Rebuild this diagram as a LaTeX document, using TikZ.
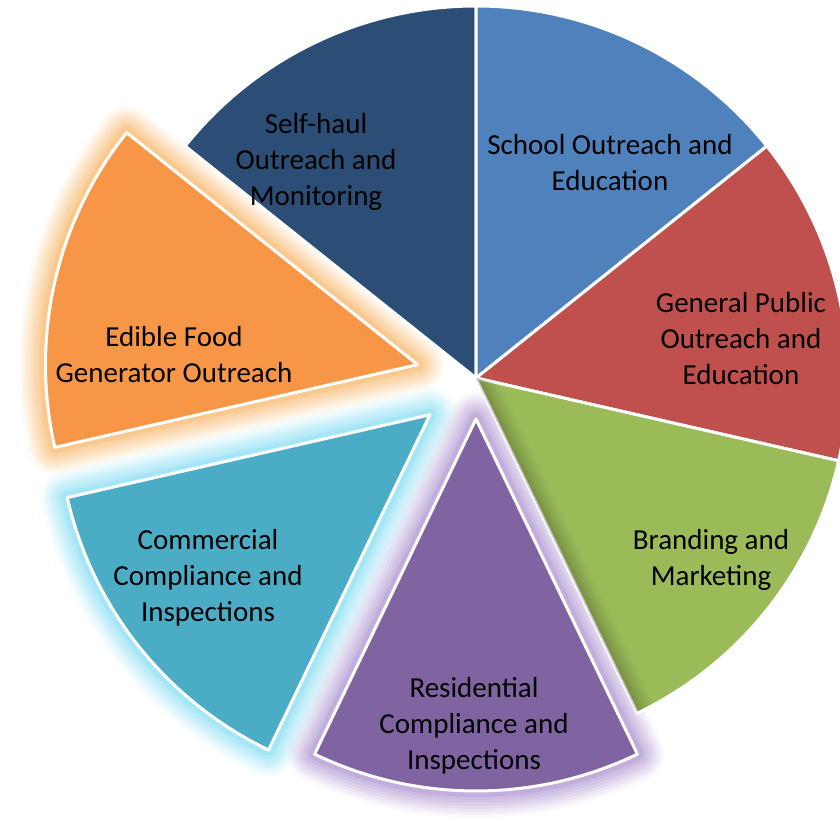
\documentclass[tikz,border=0pt]{standalone}
\usepackage{fontspec}
\setmainfont{Carlito}
\usepackage{xcolor}
\usetikzlibrary{positioning}

\definecolor{navy}{HTML}{2C4D75}
\definecolor{schoolblue}{HTML}{4F81BD}
\definecolor{publicred}{HTML}{C0504D}
\definecolor{brandgreen}{HTML}{9BBB59}
\definecolor{respurple}{HTML}{8064A2}
\definecolor{comteal}{HTML}{4BACC6}
\definecolor{foodorange}{HTML}{F79646}
\definecolor{glowpurple}{HTML}{C2AEDC}
\definecolor{glowteal}{HTML}{A5E6F6}
\definecolor{gloworange}{HTML}{FAC98F}

\begin{document}
\begin{tikzpicture}[x=1pt,y=1pt,
  slice/.style={fill=#1, draw=white, line width=3pt, line join=round},
  glowing/.style={
    preaction={draw=#1, line width=54pt, opacity=0.08, line join=round},
    preaction={draw=#1, line width=48pt, opacity=0.12, line join=round},
    preaction={draw=#1, line width=42pt, opacity=0.15, line join=round},
    preaction={draw=#1, line width=36pt, opacity=0.2, line join=round},
    preaction={draw=#1, line width=30pt, opacity=0.25, line join=round},
    preaction={draw=#1, line width=24pt, opacity=0.3, line join=round},
    preaction={draw=#1, line width=18pt, opacity=0.4, line join=round},
    preaction={draw=#1, line width=12pt, line join=round}},
  edgeshadow/.style={draw=black, opacity=#1, line cap=round},
  lbl/.style={align=center, font=\fontsize{29}{36}\selectfont}]

\useasboundingbox (0,0) rectangle (840,820);

\coordinate (c) at (476,442);
\coordinate (cfood) at (417.5,455.4);
\coordinate (ccom) at (429.9,405.2);
\coordinate (cres) at (476,401);

% exploded slices with glow
\fill[slice=foodorange, glowing=gloworange] (cfood) -- ++(141.43:372)
  arc[start angle=141.43, end angle=192.86, radius=372] -- cycle;
\fill[slice=comteal, glowing=glowteal] (ccom) -- ++(192.86:372)
  arc[start angle=192.86, end angle=244.29, radius=372] -- cycle;
\fill[slice=respurple, glowing=glowpurple] (cres) -- ++(244.29:372)
  arc[start angle=244.29, end angle=295.71, radius=372] -- cycle;

% slices in place
\fill[slice=navy] (c) -- ++(90:372)
  arc[start angle=90, end angle=141.43, radius=372] -- cycle;
\fill[slice=schoolblue] (c) -- ++(90:372)
  arc[start angle=90, end angle=38.57, radius=372] -- cycle;
\fill[slice=publicred] (c) -- ++(38.57:372)
  arc[start angle=38.57, end angle=-12.86, radius=372] -- cycle;
\fill[slice=brandgreen] (c) -- ++(-12.86:372)
  arc[start angle=-12.86, end angle=-64.29, radius=372] -- cycle;

% soft shadow on the green edge
\begin{scope}
  \clip (c) -- ++(-12.86:370.5)
    arc[start angle=-12.86, end angle=-64.29, radius=370.5] -- cycle;
  \draw[edgeshadow=0.03, line width=36pt] (c) -- ++(-64.29:380);
  \draw[edgeshadow=0.03, line width=30pt] (c) -- ++(-64.29:380);
  \draw[edgeshadow=0.04, line width=24pt] (c) -- ++(-64.29:380);
  \draw[edgeshadow=0.04, line width=18pt] (c) -- ++(-64.29:380);
  \draw[edgeshadow=0.05, line width=12pt] (c) -- ++(-64.29:380);
  \draw[edgeshadow=0.05, line width=6pt] (c) -- ++(-64.29:380);
\end{scope}

% labels
\node[lbl] (selfhaul) at (316,658) {Self-haul\\Outreach and\\Monitoring};
\node[lbl] (school) at (610,657) {School Outreach and\\Education};
\node[lbl] (public) at (741,481) {General Public\\Outreach and\\Education};
\node[lbl] (brand) at (711,260) {Branding and\\Marketing};
\node[lbl] (resid) at (474,94) {Residential\\Compliance and\\Inspections};
\node[lbl] (comm) at (208,242) {Commercial\\Compliance and\\Inspections};
\node[lbl] (food) at (174,465) {Edible Food\\Generator Outreach};

\end{tikzpicture}
\end{document}
